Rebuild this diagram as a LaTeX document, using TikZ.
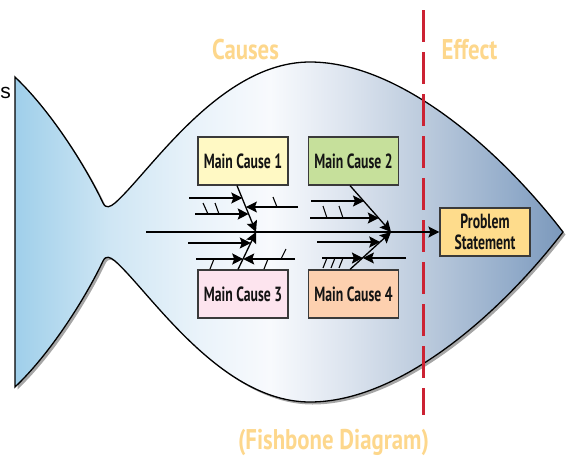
\documentclass[tikz,border=0pt]{standalone}
\usepackage{fontspec}
\usetikzlibrary{arrows.meta,shadows}
\newfontfamily\boxfont[FakeStretch=0.67]{PT Sans}
\newfontfamily\labfont[FakeStretch=0.8]{PT Sans}
\newfontfamily\arialfont{Liberation Sans}
\definecolor{c0}{HTML}{9FCFEA}
\definecolor{c1}{HTML}{CFE6F4}
\definecolor{c2}{HTML}{EAF3FA}
\definecolor{c3}{HTML}{F8FAFD}
\definecolor{c4}{HTML}{DBE3EE}
\definecolor{c5}{HTML}{BCCBDD}
\definecolor{c6}{HTML}{8FA9C8}
\definecolor{c7}{HTML}{7B98BB}
\definecolor{mcone}{HTML}{FFF9C4}
\definecolor{mctwo}{HTML}{C6E09B}
\definecolor{mcthree}{HTML}{FDE4EE}
\definecolor{mcfour}{HTML}{FDD0AF}
\definecolor{pscol}{HTML}{FEDC8C}
\definecolor{boxgray}{HTML}{3A3A3A}
\definecolor{labcol}{HTML}{FDD78C}
\definecolor{dashred}{HTML}{CC2233}
\pgfdeclarehorizontalshading{fishshade}{100bp}{color(0bp)=(c0); color(25bp)=(c0); color(33.67bp)=(c1); color(41.88bp)=(c2); color(48.27bp)=(c3); color(55.57bp)=(c4); color(62.23bp)=(c5); color(71.08bp)=(c6); color(75bp)=(c7); color(100bp)=(c7)}
\tikzset{
  bonel/.style={line width=1.3pt, draw=black},
  arr/.style={-{Stealth[length=11pt,width=11pt,inset=2pt]}},
  tickmark/.style={line width=1.1pt, draw=black},
  causebox/.style={draw=boxgray, line width=1.2pt, minimum width=90pt, minimum height=48pt, inner sep=0pt, font=\boxfont\bfseries\fontsize{20.5}{21}\selectfont, text=black!92},
  lab/.style={text=labcol, font=\labfont\bfseries\fontsize{28.5}{30}\selectfont, inner sep=0pt, anchor=base},
  reddash/.style={draw=dashred, line width=3pt, dash pattern=on 32pt off 10pt},
}
\begin{document}
\begin{tikzpicture}[x=1pt,y=-1pt]
\useasboundingbox (0,0) rectangle (566,456);
% fish
\path[draw=black, line width=1.3pt, shading=fishshade,
  drop shadow={shadow xshift=2.5pt, shadow yshift=-2.5pt, opacity=0.35, fill=black}]
  (15,77) .. controls (55,115) and (90,175) .. (103,203)
  .. controls (106,209) and (110,207) .. (115,203)
  .. controls (150,172) and (220,62) .. (310,62)
  .. controls (400,62) and (500,150) .. (563,232)
  .. controls (500,314) and (400,402) .. (310,402)
  .. controls (220,402) and (150,292) .. (115,261)
  .. controls (110,257) and (106,255) .. (103,261)
  .. controls (90,289) and (55,349) .. (15,387)
  -- cycle;
% fragment text
\node[font=\arialfont\fontsize{21}{21}\selectfont, anchor=base east, inner sep=0pt] (sfrag) at (11,98) {s};
% labels
\node[lab] (causes) at (245.5,59) {Causes};
\node[lab] (effect) at (469.5,59) {Effect};
\node[lab] (fishbone) at (333.5,449) {(Fishbone Diagram)};
% red dashed divider
\coordinate (dtop) at (423,10);
\coordinate (dbot) at (423,415);
\draw[reddash] (dtop) -- (dbot);
% boxes
\node[causebox, fill=mcone] (mc1) at (243,161) {Main Cause 1};
\node[causebox, fill=mctwo] (mc2) at (353.5,161) {Main Cause 2};
\node[causebox, fill=mcthree] (mc3) at (243,294) {Main Cause 3};
\node[causebox, fill=mcfour] (mc4) at (353.5,294) {Main Cause 4};
\node[causebox, fill=pscol, align=center] (ps) at (485,232) {Problem\\Statement};
% spine
\coordinate (sp0) at (146,232);
\coordinate (j1) at (256,232);
\coordinate (j2) at (391,232);
\draw[bonel, arr] (sp0) -- (ps.west);
% main bones
\coordinate (b1s) at ([xshift=-6pt]mc1.south);
\coordinate (b2s) at ([xshift=-3.5pt]mc2.south);
\coordinate (b3s) at ([xshift=-5pt]mc3.north);
\coordinate (b4s) at ([xshift=-3.5pt]mc4.north);
\draw[bonel, arr] (b1s) -- (j1);
\draw[bonel, arr] (b3s) -- (j1);
\draw[bonel, arr] (b2s) -- (j2);
\draw[bonel, arr] (b4s) -- (j2);
% sub bones
\coordinate (aS) at (189,198);  \coordinate (aE) at (242.3,198);
\coordinate (bS) at (195,214);  \coordinate (bE) at (248.7,214);
\coordinate (cS) at (298,207);  \coordinate (cE) at (245.9,207);
\coordinate (dS) at (188,243);  \coordinate (dE) at (250.8,243);
\coordinate (eS) at (196,259);  \coordinate (eE) at (243.2,259);
\coordinate (fS) at (295,259);  \coordinate (fE) at (243.2,259);
\coordinate (gS) at (311,201);  \coordinate (gE) at (364,201);
\coordinate (hS) at (310,218);  \coordinate (hE) at (378.8,218);
\coordinate (iS) at (317,242);  \coordinate (iE) at (380.2,242);
\coordinate (jS) at (322,258);  \coordinate (jE) at (362.9,258);
\coordinate (kS) at (406,258);  \coordinate (kE) at (362.9,258);
\foreach \s in {a,b,c,d,e,f,g,h,i,j,k}{
  \draw[bonel, arr] (\s S) -- (\s E);
}
% ticks
\draw[tickmark] (203,203) -- (208,214);
\draw[tickmark] (215,203) -- (219,214);
\draw[tickmark] (273,197) -- (277,207);
\draw[tickmark] (214,259) -- (210,269);
\draw[tickmark] (268,259) -- (264,269);
\draw[tickmark] (281,259) -- (286,249);
\draw[tickmark] (323,206) -- (327,218);
\draw[tickmark] (339,206) -- (343,218);
\draw[tickmark] (327,258) -- (323,268);
\draw[tickmark] (335,258) -- (331,268);
\draw[tickmark] (343,258) -- (339,268);
\end{tikzpicture}
\end{document}
